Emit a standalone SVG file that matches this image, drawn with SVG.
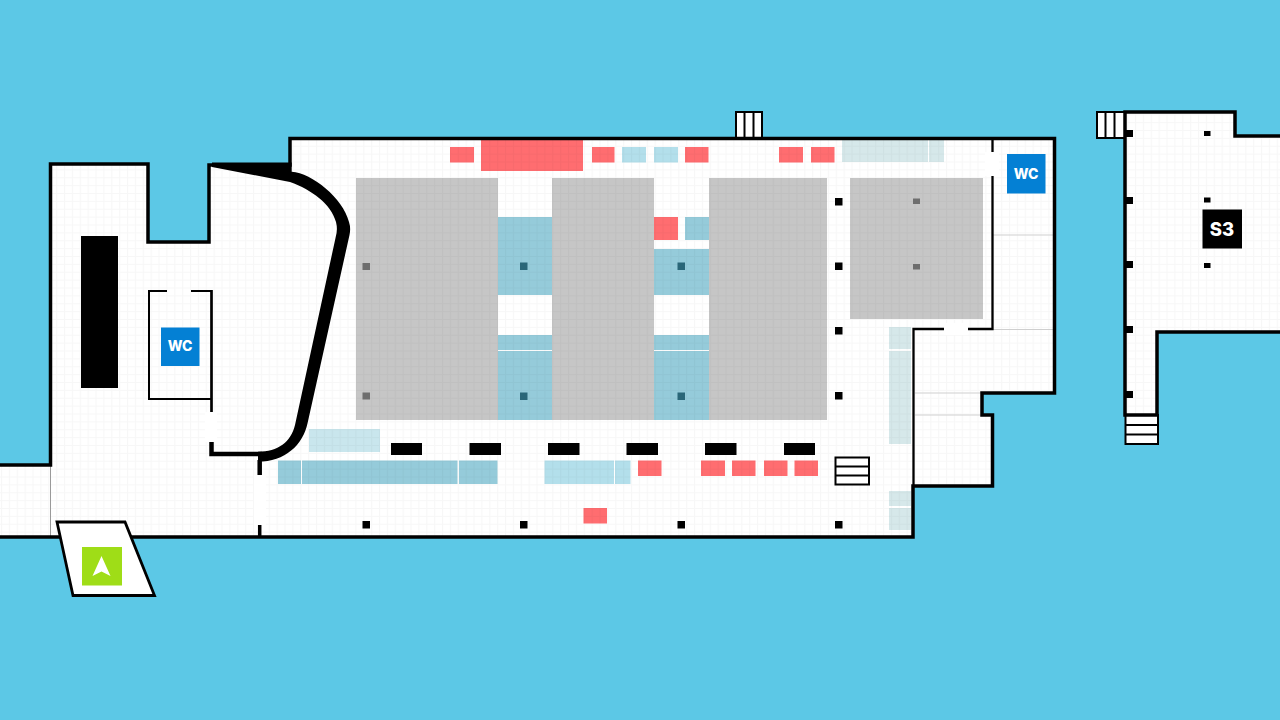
<svg xmlns="http://www.w3.org/2000/svg" width="1280" height="720" viewBox="0 0 1280 720">
<style>
.wall{fill:none;stroke:#000;stroke-linejoin:miter}
.w4{stroke-width:3.500}.w3{stroke-width:2.700}.w2{stroke-width:2}
.line{stroke:#cfcfcf;stroke-width:1.200;fill:none}
.red{fill:#ff6d70}.gray{fill:#c6c6c6}.blue{fill:#95cbda}.lblue{fill:#b3dfeb}.pale{fill:#d6e8ea}.vpale{fill:#c9e6ed}
.blk{fill:#000}.gdot{fill:#6e6e6e}.tdot{fill:#2a6678}
.stair{fill:#fff;stroke:#000;stroke-width:2}
.wc{fill:#0480d4}
.lbl{fill:#fff;font-family:"Inter","Liberation Sans",sans-serif;font-weight:800;text-anchor:middle}
</style>
<defs>
<pattern id="grid" patternUnits="userSpaceOnUse" width="7.875" height="7.875" x="1" y="4">
<path d="M0.500,0V7.875M0,0.500H7.875" fill="none" stroke="#000" stroke-opacity="0.032" stroke-width="1.200"/>
</pattern>
</defs>
<rect id="background" width="1280" height="720" fill="#5cc8e6"/>
<g id="floor-main">
<path id="floor-main-shape" fill="#fff" d="M0,465H50.500V164H148V242H209V165H290V138.500H1054.500V393H982V415H992.500V486H913V537H0Z"/>
</g>
<g id="floor-s3">
<path id="floor-s3-shape" fill="#fff" d="M1125,112H1235V136H1280V332H1157V415H1125Z"/>
</g>
<g id="halls">
<rect class="gray" x="356" y="178" width="142" height="242"/>
<rect class="gray" x="552" y="178" width="102" height="242"/>
<rect class="gray" x="709" y="178" width="118" height="242"/>
<rect class="gray" x="850" y="178" width="133" height="141"/>
</g>
<g id="blue-zones">
<rect class="blue" x="498" y="217" width="54" height="78"/>
<rect class="blue" x="498" y="335" width="54" height="15"/>
<rect class="blue" x="498" y="351" width="54" height="69"/>
<rect class="blue" x="654" y="249" width="55" height="46"/>
<rect class="blue" x="654" y="335" width="55" height="15"/>
<rect class="blue" x="654" y="351" width="55" height="69"/>
<rect class="blue" x="685" y="217" width="24" height="23"/>
<rect class="blue" x="278" y="460.500" width="23" height="23.500"/>
<rect class="blue" x="302" y="460.500" width="155.500" height="23.500"/>
<rect class="blue" x="459" y="460.500" width="38.500" height="23.500"/>
<rect class="lblue" x="544.500" y="460.500" width="69.500" height="23.500"/>
<rect class="lblue" x="615" y="460.500" width="15.500" height="23.500"/>
<rect class="lblue" x="622" y="147" width="24" height="15.500"/>
<rect class="lblue" x="654" y="147" width="24" height="15.500"/>
<rect class="vpale" x="309" y="429" width="71" height="23"/>
<rect class="pale" x="842" y="139" width="86" height="23"/>
<rect class="pale" x="929" y="139" width="15" height="23"/>
<rect class="pale" x="889" y="327" width="22" height="22"/>
<rect class="pale" x="889" y="351" width="22" height="93"/>
<rect class="pale" x="889" y="491" width="22" height="15"/>
<rect class="pale" x="889" y="508" width="22" height="22"/>
</g>
<g id="red-zones">
<rect class="red" x="450" y="147" width="24" height="15.500"/>
<rect class="red" x="481" y="139" width="102" height="32"/>
<rect class="red" x="592" y="147" width="22.500" height="15.500"/>
<rect class="red" x="685" y="147" width="23.500" height="15.500"/>
<rect class="red" x="779" y="147" width="24" height="15.500"/>
<rect class="red" x="811" y="147" width="23.500" height="15.500"/>
<rect class="red" x="654" y="217" width="24" height="23"/>
<rect class="red" x="638" y="460.500" width="23.500" height="15.500"/>
<rect class="red" x="701" y="460.500" width="24" height="15.500"/>
<rect class="red" x="732" y="460.500" width="23.500" height="15.500"/>
<rect class="red" x="764" y="460.500" width="23.500" height="15.500"/>
<rect class="red" x="794.500" y="460.500" width="23.500" height="15.500"/>
<rect class="red" x="583.500" y="508" width="23.500" height="15.500"/>
</g>
<g id="grid-overlay">
<path fill="url(#grid)" d="M0,465H50.500V164H148V242H209V165H290V138.500H1054.500V393H982V415H992.500V486H913V537H0Z"/>
<path fill="url(#grid)" d="M1125,112H1235V136H1280V332H1157V415H1125Z"/>
</g>
<g id="door-gaps" fill="#fff">
<rect x="254" y="475" width="12" height="50"/>
<rect x="985" y="152" width="14" height="24"/>
<rect x="944" y="323" width="24" height="12"/>
<rect x="205" y="412" width="12" height="30"/>
</g>
<g id="thin-lines">
<path class="line" d="M992,235H1053M992,329.500H1053M915,393H982M915,415H982"/>
<path d="M50.500,465V537" fill="none" stroke="#9a9a9a" stroke-width="1"/>
</g>
<g id="stairs">
<rect class="stair" x="736" y="112" width="26" height="27"/>
<path class="wall w2" d="M744.500,112V139M753.500,112V139"/>
<rect class="stair" x="1097" y="112" width="28" height="26"/>
<path class="wall w2" d="M1105.500,112V138M1114.500,112V138"/>
<rect class="stair" x="1125.500" y="415" width="32.500" height="29"/>
<path class="wall w2" d="M1125.500,425H1158M1125.500,434.500H1158"/>
<rect class="stair" x="835.500" y="457.500" width="33.500" height="27"/>
<path class="wall w2" d="M835.500,466.500H869M835.500,475.500H869"/>
</g>
<g id="walls">
<path class="wall w4" d="M0,465H50.500V164H148V242H209V165H290V138.500H1054.500V393H982V415H992.500V486H913V537H0"/>
<path class="wall w4" d="M1280,136H1235V112H1125V415H1157V332H1280"/>
<path class="blk" d="M208.500,162.500H291.700V171.700C312,173 343,198 349,222Q351,228 349.500,235L307.600,423C303,445 285,461.700 258,461.700V451.700C278,451.700 291,442 295,425L335.500,238Q338,230 336,222C331,204 312,190 290,182L212,167V162.500Z"/>
<path class="wall w2" d="M167,291H149V399H211M191,291H211.500"/>
<path class="wall w3" d="M211.500,290V412"/>
<path class="wall" stroke-width="4.500" d="M211.500,442V454H262"/>
<path class="wall" stroke-width="4.500" d="M259.700,460V475"/>
<path class="wall w4" d="M259.700,525V537"/>
<path class="wall" stroke-width="2.300" d="M992.500,139V152M992.500,176V329H968M944,329H913.500V486"/>
</g>
<g id="columns">
<rect class="blk" x="81" y="236" width="37" height="152"/>
<rect class="blk" x="391" y="443" width="31" height="12"/>
<rect class="blk" x="469.500" y="443" width="31.500" height="12"/>
<rect class="blk" x="548" y="443" width="31.500" height="12"/>
<rect class="blk" x="626.500" y="443" width="31.500" height="12"/>
<rect class="blk" x="705" y="443" width="31.500" height="12"/>
<rect class="blk" x="784" y="443" width="31" height="12"/>
<rect class="blk" x="835" y="198" width="7.500" height="7.500"/>
<rect class="blk" x="835" y="262.500" width="7.500" height="7.500"/>
<rect class="blk" x="835" y="327" width="7.500" height="7.500"/>
<rect class="blk" x="835" y="392" width="7.500" height="7.500"/>
<rect class="blk" x="835" y="521" width="7.500" height="7.500"/>
<rect class="blk" x="362.500" y="521" width="7.500" height="7.500"/>
<rect class="blk" x="520" y="521" width="7.500" height="7.500"/>
<rect class="blk" x="677.500" y="521" width="7.500" height="7.500"/>
<rect class="gdot" x="362.500" y="263" width="7.500" height="7"/>
<rect class="gdot" x="362.500" y="392.500" width="7.500" height="7"/>
<rect class="gdot" x="913" y="198.500" width="7" height="5.500"/>
<rect class="gdot" x="913" y="264" width="7" height="5.500"/>
<rect class="tdot" x="520" y="262.500" width="7.500" height="7.500"/>
<rect class="tdot" x="520" y="392.500" width="7.500" height="7.500"/>
<rect class="tdot" x="677.500" y="262.500" width="7.500" height="7.500"/>
<rect class="tdot" x="677.500" y="392.500" width="7.500" height="7.500"/>
<rect class="blk" x="1124" y="130" width="9" height="7"/>
<rect class="blk" x="1124" y="197" width="9" height="7"/>
<rect class="blk" x="1124" y="261" width="9" height="7"/>
<rect class="blk" x="1124" y="326" width="9" height="7"/>
<rect class="blk" x="1124" y="391" width="9" height="7"/>
<rect class="blk" x="1204" y="131" width="6.500" height="5"/>
<rect class="blk" x="1204" y="197.500" width="6.500" height="5"/>
<rect class="blk" x="1204" y="263" width="6.500" height="5"/>
</g>
<g id="wc-left">
<rect class="wc" x="161" y="327.500" width="38.500" height="38.500"/>
<text class="lbl" x="180" y="351" font-size="14">WC</text>
</g>
<g id="wc-right">
<rect class="wc" x="1007" y="154" width="38.500" height="39.500"/>
<text class="lbl" x="1026" y="179" font-size="14">WC</text>
</g>
<g id="s3">
<rect class="blk" x="1202.500" y="209.500" width="39.500" height="39"/>
<text class="lbl" x="1222" y="236" font-size="18.500">S3</text>
</g>
<g id="entrance">
<path d="M57,522H125L154.500,595.500H73Z" fill="#fff" stroke="#000" stroke-width="2.800"/>
<rect x="82" y="547" width="40" height="38.500" fill="#9fdd17"/>
<path d="M101.500,556L110.500,576L101.500,571.500L92.500,576Z" fill="#fff"/>
</g>
</svg>
